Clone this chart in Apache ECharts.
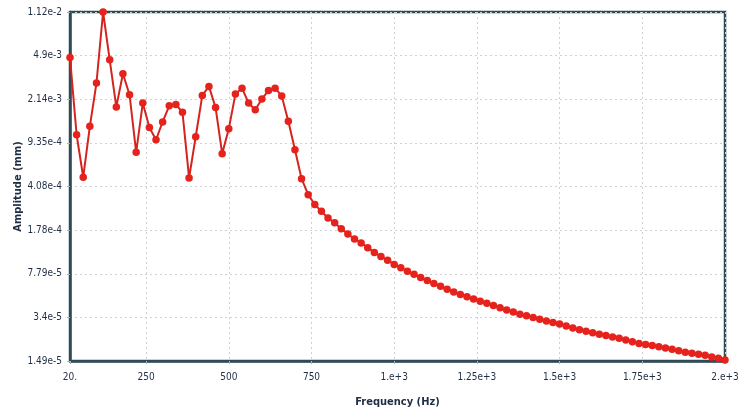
<!DOCTYPE html>
<html>
<head>
<meta charset="utf-8">
<script src="https://cdn.jsdelivr.net/npm/echarts@6/dist/echarts.min.js"></script>
<style>
html,body{margin:0;padding:0;background:#fff;}
#chart{width:752px;height:408px;}
</style>
</head>
<body>
<div id="chart"></div>
<script>
// Frequencies (Hz), 20 Hz steps from 20 to 2000
var frequencies = [
  20,40,60,80,100,120,140,160,180,200,
  220,240,260,280,300,320,340,360,380,400,
  420,440,460,480,500,520,540,560,580,600,
  620,640,660,680,700,720,740,760,780,800,
  820,840,860,880,900,920,940,960,980,1000,
  1020,1040,1060,1080,1100,1120,1140,1160,1180,1200,
  1220,1240,1260,1280,1300,1320,1340,1360,1380,1400,
  1420,1440,1460,1480,1500,1520,1540,1560,1580,1600,
  1620,1640,1660,1680,1700,1720,1740,1760,1780,1800,
  1820,1840,1860,1880,1900,1920,1940,1960,1980,2000
];
// Amplitude (mm)
var amplitudes = [
  4.72e-3,1.09e-3,4.87e-4,1.28e-3,2.91e-3,1.12e-2,4.52e-3,1.85e-3,3.47e-3,2.33e-3,
  7.81e-4,1.99e-3,1.25e-3,9.92e-4,1.39e-3,1.89e-3,1.94e-3,1.67e-3,4.81e-4,1.05e-3,
  2.30e-3,2.73e-3,1.83e-3,7.62e-4,1.22e-3,2.36e-3,2.64e-3,1.99e-3,1.75e-3,2.15e-3,
  2.52e-3,2.64e-3,2.28e-3,1.41e-3,8.22e-4,4.74e-4,3.50e-4,2.90e-4,2.55e-4,2.25e-4,
  2.05e-4,1.83e-4,1.66e-4,1.51e-4,1.40e-4,1.28e-4,1.17e-4,1.08e-4,1.01e-4,9.31e-5,
  8.75e-5,8.20e-5,7.71e-5,7.28e-5,6.87e-5,6.49e-5,6.14e-5,5.81e-5,5.51e-5,5.27e-5,
  5.05e-5,4.83e-5,4.63e-5,4.45e-5,4.27e-5,4.09e-5,3.93e-5,3.77e-5,3.62e-5,3.51e-5,
  3.40e-5,3.29e-5,3.19e-5,3.10e-5,3.01e-5,2.90e-5,2.79e-5,2.70e-5,2.62e-5,2.55e-5,
  2.48e-5,2.42e-5,2.35e-5,2.29e-5,2.22e-5,2.15e-5,2.08e-5,2.04e-5,2.00e-5,1.95e-5,
  1.91e-5,1.86e-5,1.81e-5,1.76e-5,1.73e-5,1.69e-5,1.66e-5,1.61e-5,1.57e-5,1.52e-5
];
var yTickLabels = ['1.49e-5','3.4e-5','7.79e-5','1.78e-4','4.08e-4','9.35e-4','2.14e-3','4.9e-3','1.12e-2'];
var xTickValues = [20,250,500,750,1000,1250,1500,1750,2000];
var xTickLabels = ['20.','250','500','750','1.e+3','1.25e+3','1.5e+3','1.75e+3','2.e+3'];

// log scale with evenly spaced custom ticks: map amplitude to tick-index units
var yMinVal = 1.49e-5, yMaxVal = 1.12e-2, yDivs = yTickLabels.length - 1;
var logStep = Math.log(yMaxVal / yMinVal) / yDivs;
function toT(a){ return Math.log(a / yMinVal) / logStep; }

var seriesData = frequencies.map(function(f, i){ return [f, toT(amplitudes[i])]; });

var chart = echarts.init(document.getElementById('chart'), null, {renderer:'canvas'});
var textColor = '#1f2d45';
var frameColor = '#2e4b55';
var fontFam = 'Liberation Sans Narrow, DejaVu Sans Condensed, sans-serif';
chart.setOption({
  animation: false,
  backgroundColor: '#ffffff',
  grid: {left: 70, right: 27, top: 12, bottom: 47, containLabel: false, outerBoundsMode: 'none',
         show: true, borderColor: frameColor, borderWidth: 2.5, backgroundColor: '#ffffff'},
  xAxis: {
    type: 'value', min: 20, max: 2000,
    name: 'Frequency (Hz)', nameLocation: 'middle', nameGap: 36, nameMoveOverlap: false,
    nameTextStyle: {color: textColor, fontFamily: fontFam, fontWeight: 'bold', fontSize: 11},
    axisLine: {show: true, lineStyle: {color: frameColor, width: 2.5}},
    axisTick: {show: true, length: 3, inside: false, customValues: xTickValues, lineStyle: {color: '#aab4b8'}},
    axisLabel: {customValues: xTickValues, color: textColor, fontSize: 10, margin: 11,
      fontFamily: fontFam,
      formatter: function(v){ var i = xTickValues.indexOf(v); return i >= 0 ? xTickLabels[i] : ''; }},
    splitLine: {show: true, lineStyle: {color: '#ccd2d6', type: [2, 3], width: 1}}
  },
  yAxis: {
    type: 'value', min: 0, max: yDivs, interval: 1,
    name: 'Amplitude (mm)', nameLocation: 'middle', nameGap: 46, nameRotate: 90, nameMoveOverlap: false,
    nameTextStyle: {color: textColor, fontFamily: fontFam, fontWeight: 'bold', fontSize: 11},
    axisLine: {show: true, lineStyle: {color: frameColor, width: 2.5}},
    axisTick: {show: true, length: 3, lineStyle: {color: '#aab4b8'}},
    axisLabel: {color: textColor, fontSize: 10, margin: 8,
      fontFamily: fontFam,
      formatter: function(v){ return yTickLabels[Math.round(v)] || ''; }},
    splitLine: {show: true, lineStyle: {color: '#ccd2d6', type: [2, 3], width: 1}}
  },
  series: [{
    type: 'line',
    data: seriesData,
    symbol: 'circle', symbolSize: 7.5,
    clip: false,
    lineStyle: {color: '#d4241f', width: 2},
    itemStyle: {color: '#e5221c'}
  }]
});
</script>
</body>
</html>
